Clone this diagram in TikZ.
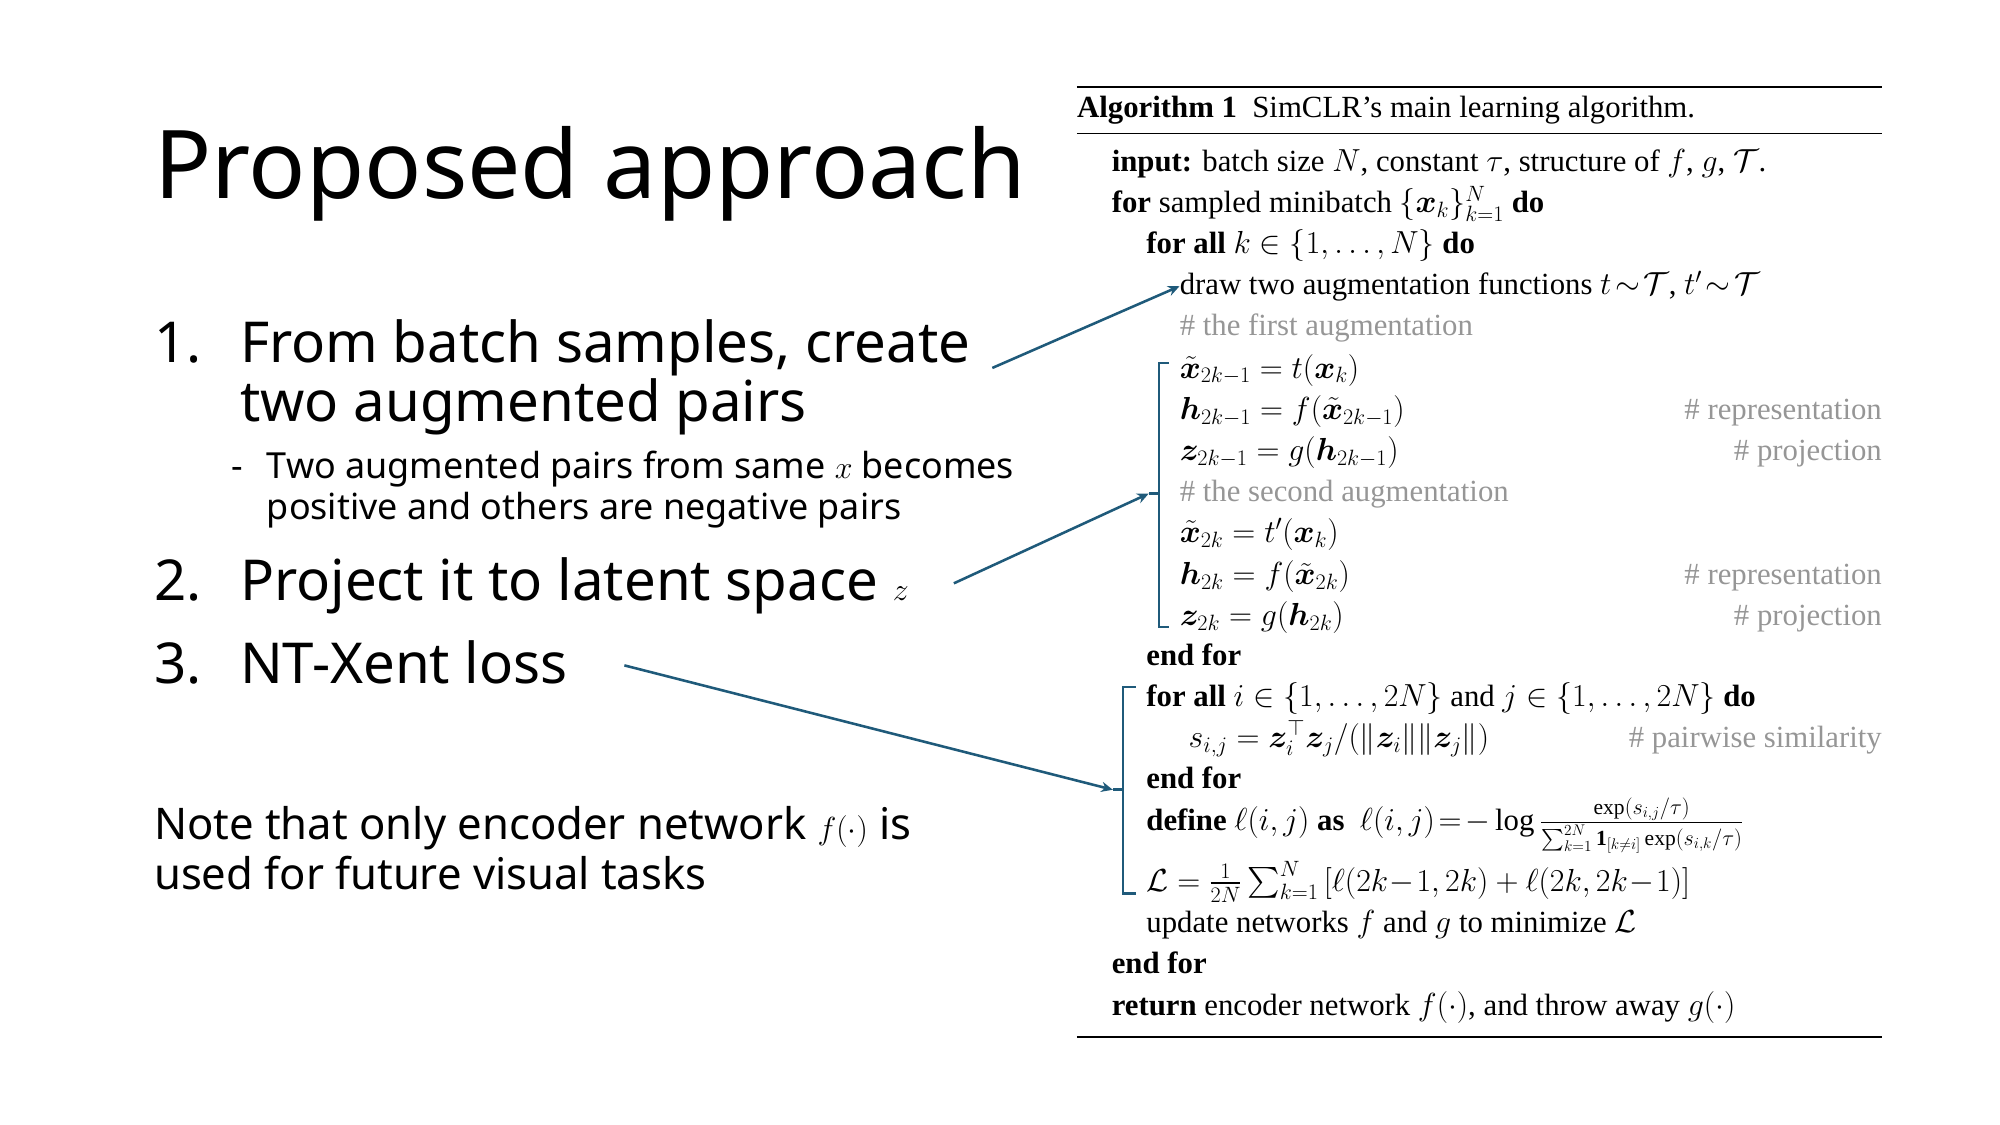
\documentclass[tikz,border=0pt]{standalone}
\usepackage{amsmath,amssymb,bm}
\usepackage{fontspec}
\setmainfont{Liberation Serif}
\newfontfamily\slidefont{Noto Sans}
\usetikzlibrary{arrows.meta}
\definecolor{arr}{RGB}{31,90,122}
\definecolor{cmt}{RGB}{150,150,150}
\tikzset{
 x=1pt,y=-1pt,
 alg/.style={anchor=base west,inner sep=0pt,font=\fontsize{24}{28}\selectfont},
 cmtext/.style={anchor=base east,inner sep=0pt,text=cmt,font=\fontsize{24}{28}\selectfont},
 sl/.style={anchor=base west,inner sep=0pt,font=\slidefont\fontsize{44}{50}\selectfont},
 conn/.style={draw=arr,line width=2pt,-{Stealth[length=9pt,width=8pt]}},
 brk/.style={draw=arr,line width=2pt},
}
\newcommand{\bx}{\bm{x}}
\begin{document}
\begin{tikzpicture}
\useasboundingbox (0,0) rectangle (1560,877.5);
% slide text
\node[sl,font=\slidefont\fontsize{74}{80}\selectfont] (title) at (120,155) {Proposed approach};
\node[sl] (n1) at (120,283) {1.};
\node[sl] (i1) at (187,283) {From batch samples, create};
\node[sl] (i1b) at (187,329) {two augmented pairs};
\node[sl,font=\slidefont\fontsize{28}{32}\selectfont] (d) at (180,373) {-};
\node[sl,font=\slidefont\fontsize{28}{32}\selectfont] (s1) at (208,373) {Two augmented pairs from same $x$ becomes};
\node[sl,font=\slidefont\fontsize{28}{32}\selectfont] (s2) at (208,405) {\textbf{positive} and others are \textbf{negative} pairs};
\node[sl] (n2) at (120,468) {2.};
\node[sl] (i2) at (187,468) {Project it to latent space $z$};
\node[sl] (n3) at (120,533) {3.};
\node[sl] (i3) at (187,533) {NT-Xent loss};
\node[sl,font=\slidefont\fontsize{34}{38}\selectfont] (note1) at (120,655) {Note that only encoder network $f(\cdot)$ is};
\node[sl,font=\slidefont\fontsize{34}{38}\selectfont] (note2) at (120,694) {used for future visual tasks};
% rules
\draw[line width=2pt] (840,68) -- (1468,68);
\draw[line width=1.2pt] (840,104) -- (1468,104);
\draw[line width=1.2pt] (840,809) -- (1468,809);
% algorithm
\node[alg] (hdr) at (840,92) {\textbf{Algorithm 1}\ \ SimCLR's main learning algorithm.};
\node[alg] (l1) at (867,134) {\textbf{input:} batch size $N$, constant $\tau$, structure of $f$, $g$, $\mathcal{T}$.};
\node[alg] (l2) at (867,166) {\textbf{for} sampled minibatch $\{\bx_k\}_{k=1}^N$ \textbf{do}};
\node[alg] (l3) at (894,198) {\textbf{for all} $k\in\{1,\ldots,N\}$ \textbf{do}};
\node[alg] (l4) at (920,230) {draw two augmentation functions $t\!\sim\!\mathcal{T}$, $t'\!\sim\!\mathcal{T}$};
\node[alg,text=cmt] (l5) at (920,262) {\# the first augmentation};
\node[alg] (l6) at (920,295) {$\tilde{\bx}_{2k-1}=t(\bx_k)$};
\node[alg] (l7) at (920,327) {$\bm{h}_{2k-1}=f(\tilde{\bx}_{2k-1})$};
\node[cmtext] (c7) at (1468,327) {\# representation};
\node[alg] (l8) at (920,359) {$\bm{z}_{2k-1}=g(\bm{h}_{2k-1})$};
\node[cmtext] (c8) at (1468,359) {\# projection};
\node[alg,text=cmt] (l9) at (920,391) {\# the second augmentation};
\node[alg] (l10) at (920,423) {$\tilde{\bx}_{2k}=t'(\bx_k)$};
\node[alg] (l11) at (920,456) {$\bm{h}_{2k}=f(\tilde{\bx}_{2k})$};
\node[cmtext] (c11) at (1468,456) {\# representation};
\node[alg] (l12) at (920,488) {$\bm{z}_{2k}=g(\bm{h}_{2k})$};
\node[cmtext] (c12) at (1468,488) {\# projection};
\node[alg] (l13) at (894,519) {\textbf{end for}};
\node[alg] (l14) at (894,551) {\textbf{for all} $i\in\{1,\ldots,2N\}$ and $j\in\{1,\ldots,2N\}$ \textbf{do}};
\node[alg] (l15) at (927,583) {$s_{i,j}=\bm{z}_i^{\top}\bm{z}_j/(\|\bm{z}_i\|\|\bm{z}_j\|)$};
\node[cmtext] (c15) at (1468,583) {\# pairwise similarity};
\node[alg] (l16) at (894,615) {\textbf{end for}};
\node[alg] (l17) at (894,648) {\textbf{define} $\ell(i,j)$ \textbf{as} \ $\ell(i,j)\!=\!-\log\frac{\exp(s_{i,j}/\tau)}{\sum_{k=1}^{2N}\mathbf{1}_{[k\neq i]}\exp(s_{i,k}/\tau)}$};
\node[alg] (l18) at (894,695) {$\mathcal{L}=\frac{1}{2N}\sum_{k=1}^{N}\,[\ell(2k\!-\!1,2k)+\ell(2k,2k\!-\!1)]$};
\node[alg] (l19) at (894,727) {update networks $f$ and $g$ to minimize $\mathcal{L}$};
\node[alg] (l20) at (867,759) {\textbf{end for}};
\node[alg] (l21) at (867,792) {\textbf{return} encoder network $f(\cdot)$, and throw away $g(\cdot)$};
% brackets
\coordinate (b1) at (896,385);
\coordinate (b2) at (868,616);
\draw[brk] (912,283) -- (904,283) -- (904,489) -- (912,489);
\draw[brk] (904,385) -- (b1);
\draw[brk] (886,536) -- (876,536) -- (876,697) -- (886,697);
\draw[brk] (876,616) -- (b2);
% connectors
\coordinate (a1s) at (774,287);
\coordinate (a2s) at (744,455);
\coordinate (a3s) at (487,519);
\draw[conn] (a1s) -- (l4.west);
\draw[conn] (a2s) -- (b1);
\draw[conn] (a3s) -- (b2);
\end{tikzpicture}
\end{document}
